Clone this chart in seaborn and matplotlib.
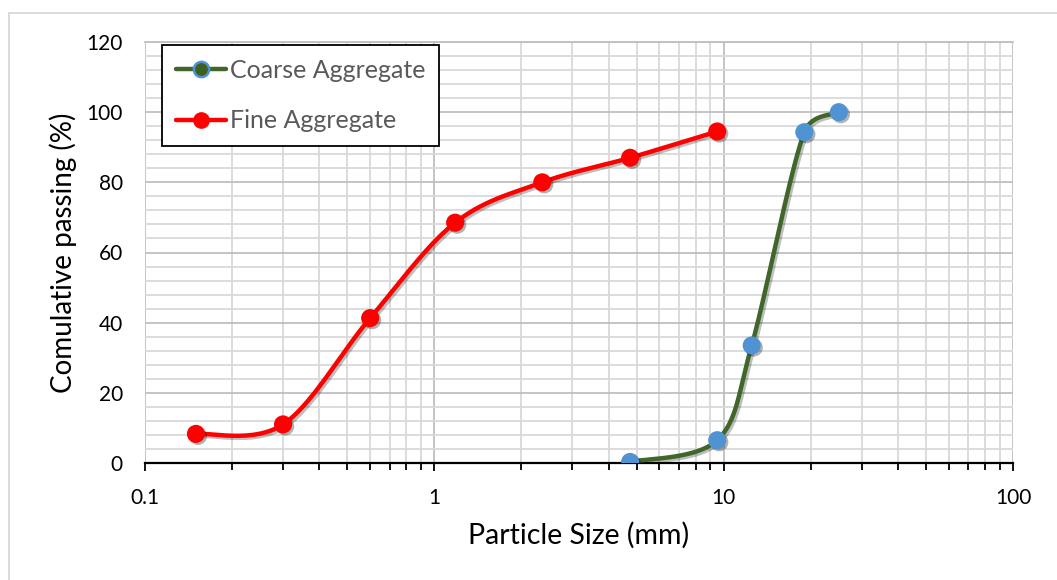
import numpy as np
import pandas as pd
import matplotlib
matplotlib.use("Agg")
import matplotlib.pyplot as plt
import seaborn as sns
from matplotlib.lines import Line2D
from matplotlib.ticker import LogLocator, FixedLocator, NullFormatter, FixedFormatter
import matplotlib.patheffects as pe

# ---- data ----
coarse_size = [4.75, 9.5, 12.5, 19.0, 25.0]
coarse_pass = [0.3, 6.5, 33.5, 94.3, 100.0]
fine_size = [0.15, 0.3, 0.6, 1.18, 2.36, 4.75, 9.5]
fine_pass = [8.3, 11.0, 41.3, 68.5, 80.0, 87.0, 94.5]
series_names = ["Coarse Aggregate", "Fine Aggregate"]
x_ticks = [0.1, 1, 10, 100]
x_tick_labels = ["0.1", "1", "10", "100"]
y_ticks = [0, 20, 40, 60, 80, 100, 120]

sns.set_theme(style="white")
plt.rcParams['font.family'] = ['Lato', 'DejaVu Sans']

W, H = 1057, 580
fig = plt.figure(figsize=(W / 100, H / 100), dpi=100)
L, R, T, B = 145, 1013, 42, 463
ax = fig.add_axes([L / W, 1 - B / H, (R - L) / W, (B - T) / H])
ax.set_xscale("log")
ax.set_xlim(0.1, 100)
ax.set_ylim(0, 120)

px_per_dec = (R - L) / 3.0
px_per_unit = (B - T) / 120.0


def smooth(xs, ys, n=50):
    # Excel-like cardinal smoothing in screen space, control arms limited by chord
    u = np.log10(np.asarray(xs)) * px_per_dec
    v = np.asarray(ys) * px_per_unit
    P = np.column_stack([u, v])
    out = []
    for i in range(len(P) - 1):
        p0 = P[i - 1] if i > 0 else P[i]
        p1 = P[i]
        p2 = P[i + 1]
        p3 = P[i + 2] if i + 2 < len(P) else P[i + 1]
        chord = np.linalg.norm(p2 - p1)
        a = (p2 - p0) / 6.0
        b = (p3 - p1) / 6.0
        lim = 0.5 * chord
        if np.linalg.norm(a) > lim:
            a = a * lim / np.linalg.norm(a)
        if np.linalg.norm(b) > lim:
            b = b * lim / np.linalg.norm(b)
        c1 = p1 + a
        c2 = p2 - b
        t = np.linspace(0, 1, n)[:, None]
        seg = ((1 - t) ** 3) * p1 + 3 * ((1 - t) ** 2) * t * c1 + 3 * (1 - t) * t ** 2 * c2 + t ** 3 * p2
        out.append(seg if i == 0 else seg[1:])
    S = np.vstack(out)
    return 10 ** (S[:, 0] / px_per_dec), S[:, 1] / px_per_unit


green = "#41662a"
blue = "#4f93d3"
red = "#ff0000"

shadow = [pe.SimpleLineShadow(offset=(1.5, -1.5), shadow_color="black", alpha=0.25), pe.Normal()]

cx, cy = smooth(coarse_size, coarse_pass)
fx, fy = smooth(fine_size, fine_pass)
dfc = pd.DataFrame({"x": cx, "y": cy})
dff = pd.DataFrame({"x": fx, "y": fy})
sns.lineplot(data=dfc, x="x", y="y", ax=ax, color=green, lw=3.2, sort=False, zorder=3,
             path_effects=shadow)
sns.lineplot(data=dff, x="x", y="y", ax=ax, color=red, lw=3.2, sort=False, zorder=3,
             path_effects=shadow)

mshadow = [pe.SimplePatchShadow(offset=(1.5, -1.5), shadow_rgbFace="black", alpha=0.3), pe.Normal()]
sns.scatterplot(x=coarse_size, y=coarse_pass, ax=ax, color=blue, s=170, edgecolor="none",
                zorder=4, path_effects=mshadow)
sns.scatterplot(x=fine_size, y=fine_pass, ax=ax, color=red, s=170, edgecolor="none",
                zorder=4, path_effects=mshadow)

# grid
ax.yaxis.set_major_locator(FixedLocator(y_ticks))
ax.yaxis.set_minor_locator(FixedLocator(np.arange(0, 121, 4)))
ax.xaxis.set_major_locator(FixedLocator(x_ticks))
ax.xaxis.set_major_formatter(FixedFormatter(x_tick_labels))
ax.xaxis.set_minor_locator(LogLocator(base=10, subs=np.arange(2, 10)))
ax.xaxis.set_minor_formatter(NullFormatter())
ax.grid(which="minor", color="#d9d9d9", lw=1.3, zorder=0)
ax.grid(which="major", color="#bfbfbf", lw=1.3, zorder=0)
ax.set_axisbelow(True)

for s in ["left", "right"]:
    ax.spines[s].set_visible(False)
ax.spines["top"].set_color("#bfbfbf")
ax.spines["top"].set_linewidth(1.3)
ax.spines["bottom"].set_color("black")
ax.spines["bottom"].set_linewidth(1.6)

ax.tick_params(axis="x", which="major", direction="out", length=6, width=1.3, color="black",
               pad=12, labelsize=15, labelcolor="black", bottom=True)
ax.tick_params(axis="x", which="minor", direction="out", length=5, width=1.3, color="black",
               bottom=True)
ax.tick_params(axis="y", which="both", length=0, pad=16, labelsize=15, labelcolor="black")

ax.set_xlabel("Particle Size (mm)", fontsize=20.5, color="black", labelpad=10)
ax.set_ylabel("Comulative passing (%)", fontsize=20, color="black", labelpad=7)

handles = [
    Line2D([0], [0], color=green, lw=3.2, marker="o", markersize=11,
           markerfacecolor="#3e5f22", markeredgecolor=blue, markeredgewidth=1.8),
    Line2D([0], [0], color=red, lw=3.2, marker="o", markersize=11,
           markerfacecolor=red, markeredgecolor=red),
]
leg = ax.legend(handles, series_names, loc="upper left", bbox_to_anchor=(17 / (R - L), 1 - 3 / (B - T)),
                fontsize=18, frameon=True, fancybox=False, edgecolor="black", framealpha=1,
                handlelength=2.0, labelspacing=1.1, borderpad=0.55, handletextpad=0.15,
                borderaxespad=0)
leg.get_frame().set_linewidth(1.3)
for t in leg.get_texts():
    t.set_color("#595959")

# chart-area border (partially visible)
fig.add_artist(Line2D([9 / W, 1], [1 - 13 / H, 1 - 13 / H], color="#d9d9d9", lw=1.3))
fig.add_artist(Line2D([9 / W, 9 / W], [0, 1 - 13 / H], color="#d9d9d9", lw=1.3))

fig.savefig("out.png", dpi=100)
